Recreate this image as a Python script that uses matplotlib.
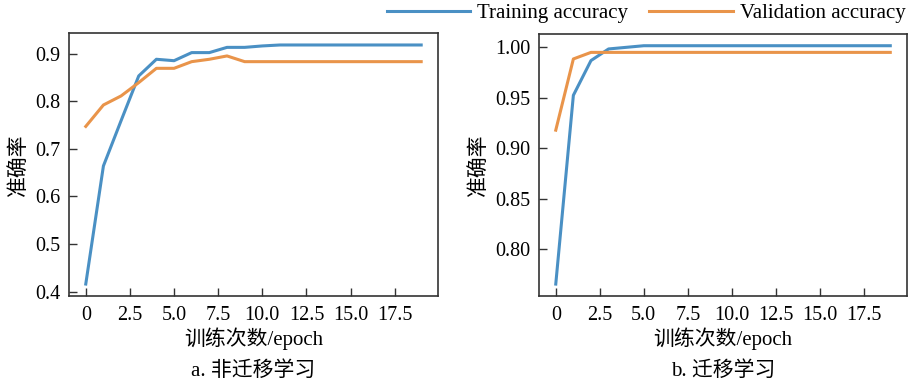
import matplotlib
matplotlib.use("Agg")
import matplotlib.pyplot as plt

plt.rcParams['font.family'] = ['Liberation Serif', 'Noto Sans CJK SC', 'DejaVu Sans']

epochs = list(range(20))

# a. non-transfer learning
train_a = [0.416, 0.664, 0.759, 0.853, 0.888, 0.885, 0.902, 0.902, 0.913, 0.913,
           0.916, 0.918, 0.918, 0.918, 0.918, 0.918, 0.918, 0.918, 0.918, 0.918]
val_a = [0.747, 0.792, 0.811, 0.839, 0.869, 0.869, 0.883, 0.888, 0.895, 0.883,
         0.883, 0.883, 0.883, 0.883, 0.883, 0.883, 0.883, 0.883, 0.883, 0.883]

# b. transfer learning
train_b = [0.7656, 0.9525, 0.9869, 0.9984, 1.0000, 1.0016, 1.0016, 1.0016, 1.0016, 1.0016,
           1.0016, 1.0016, 1.0016, 1.0016, 1.0016, 1.0016, 1.0016, 1.0016, 1.0016, 1.0016]
val_b = [0.918, 0.9885, 0.995, 0.995, 0.995, 0.995, 0.995, 0.995, 0.995, 0.995,
         0.995, 0.995, 0.995, 0.995, 0.995, 0.995, 0.995, 0.995, 0.995, 0.995]

yticks_a = [0.4, 0.5, 0.6, 0.7, 0.8, 0.9]
yticks_b = [0.80, 0.85, 0.90, 0.95, 1.00]
xticks = [0, 2.5, 5.0, 7.5, 10.0, 12.5, 15.0, 17.5]
xticklabels = ['0', '2.5', '5.0', '7.5', '10.0', '12.5', '15.0', '17.5']

blue = '#4a90c4'
orange = '#e9944a'
fs_tick = 14.5
fs = 15

fig = plt.figure(figsize=(9.09, 3.85), dpi=100)
ax1 = fig.add_axes([0.0759, 0.2312, 0.4059, 0.683])
ax2 = fig.add_axes([0.593, 0.2312, 0.4048, 0.681])

panels = [
    (ax1, train_a, val_a, yticks_a, '{:.1f}', 'a. 非迁移学习'),
    (ax2, train_b, val_b, yticks_b, '{:.2f}', 'b. 迁移学习'),
]

for ax, tr, va, yt, fmt, cap in panels:
    l1, = ax.plot(epochs, tr, color=blue, lw=2.2, label='Training accuracy')
    l2, = ax.plot(epochs, va, color=orange, lw=2.2, label='Validation accuracy')
    ax.set_xticks(xticks)
    ax.set_xticklabels(xticklabels, fontsize=fs_tick)
    ax.set_yticks(yt)
    ax.set_yticklabels([fmt.format(v) for v in yt], fontsize=fs_tick)
    ax.tick_params(direction='in', length=6, width=1, color='#333333')
    ax.tick_params(axis='x', pad=7)
    ax.tick_params(axis='y', pad=6)
    for s in ax.spines.values():
        s.set_color('#333333')
        s.set_linewidth(1.2)
    ax.set_xlabel('训练次数/epoch', fontsize=fs, labelpad=2)
    ax.set_ylabel('准确率', fontsize=fs, labelpad=5)
    ax.text(0.5, -0.285, cap, transform=ax.transAxes, ha='center', va='center', fontsize=fs)

fig.legend(handles=[l1, l2], loc='upper right', bbox_to_anchor=(1.017, 1.04), ncol=2,
           frameon=False, fontsize=fs, handlelength=4.0, handletextpad=0.35,
           columnspacing=1.0)

fig.savefig('out.png', dpi=100)
